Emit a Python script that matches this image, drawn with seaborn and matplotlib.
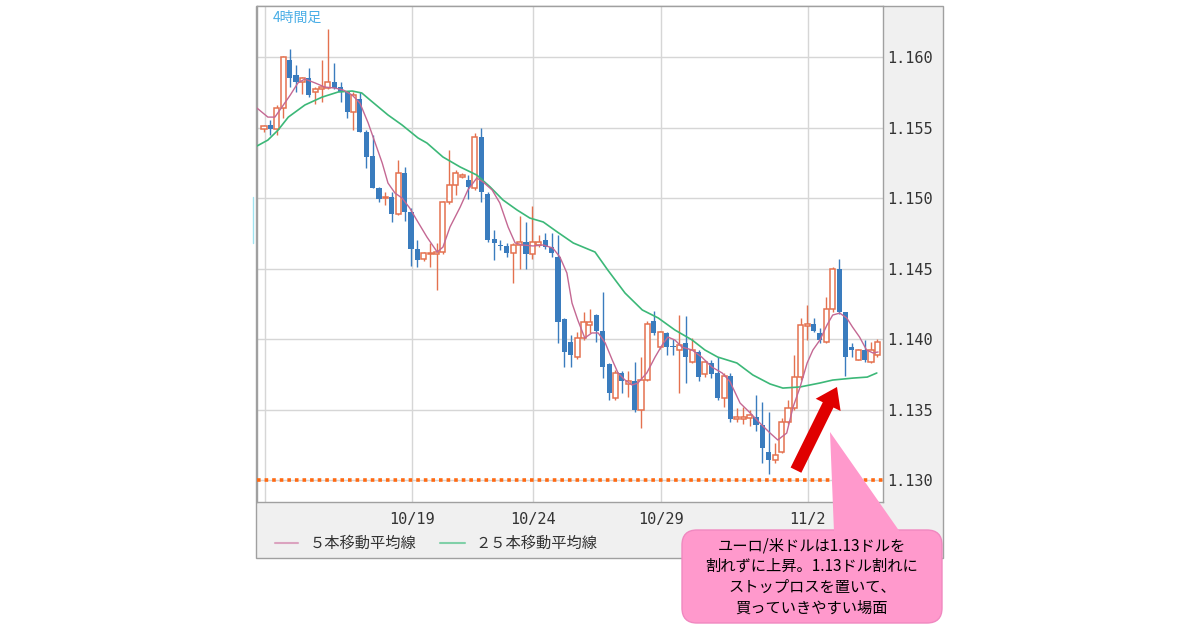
import numpy as np
import pandas as pd
import matplotlib
matplotlib.use('Agg')
import matplotlib.pyplot as plt
import matplotlib.transforms as mtransforms
import seaborn as sns
from matplotlib.patches import Rectangle, FancyBboxPatch, Polygon
from matplotlib.lines import Line2D

# 4-hour candles, EUR/USD
opens = [1.1549, 1.1552, 1.1549, 1.1564, 1.1598, 1.1587, 1.1582, 1.1585, 1.1575, 1.1577,
         1.1578, 1.1582, 1.1579, 1.1575, 1.1561, 1.1570, 1.1547, 1.1530, 1.1507, 1.1500,
         1.1501, 1.1489, 1.1518, 1.1490, 1.1464, 1.1457, 1.1460, 1.1460, 1.1462, 1.1497,
         1.1509, 1.1515, 1.1513, 1.1507, 1.1543, 1.1503, 1.1471, 1.1467, 1.1466, 1.1461,
         1.1467, 1.1469, 1.1460, 1.1467, 1.1470, 1.1465, 1.1458, 1.1414, 1.1398, 1.1387,
         1.1401, 1.1410, 1.1417, 1.1406, 1.1382, 1.1358, 1.1376, 1.1368, 1.1370, 1.1350,
         1.1371, 1.1413, 1.1394, 1.1404, 1.1395, 1.1392, 1.1397, 1.1384, 1.1391, 1.1375,
         1.1383, 1.1376, 1.1358, 1.1374, 1.1343, 1.1343, 1.1344, 1.1345, 1.1339, 1.1320,
         1.1314, 1.1320, 1.1341, 1.1351, 1.1373, 1.1409, 1.1411, 1.1404, 1.1398, 1.1421,
         1.1450, 1.1419, 1.1394, 1.1385, 1.1392, 1.1384, 1.1389]
highs = [1.1552, 1.1555, 1.1566, 1.1601, 1.1606, 1.1594, 1.1586, 1.1592, 1.1579, 1.1598,
         1.1620, 1.1596, 1.1582, 1.1575, 1.1575, 1.1575, 1.1548, 1.1545, 1.1508, 1.1504,
         1.1504, 1.1527, 1.1522, 1.1493, 1.1470, 1.1462, 1.1468, 1.1468, 1.1498, 1.1534,
         1.1520, 1.1518, 1.1516, 1.1546, 1.1550, 1.1504, 1.1477, 1.1470, 1.1468, 1.1468,
         1.1487, 1.1483, 1.1494, 1.1474, 1.1475, 1.1475, 1.1474, 1.1415, 1.1403, 1.1405,
         1.1419, 1.1421, 1.1418, 1.1433, 1.1383, 1.1378, 1.1377, 1.1377, 1.1384, 1.1387,
         1.1413, 1.1420, 1.1406, 1.1405, 1.1400, 1.1417, 1.1416, 1.1401, 1.1392, 1.1385,
         1.1385, 1.1387, 1.1376, 1.1376, 1.1351, 1.1352, 1.1350, 1.1360, 1.1355, 1.1348,
         1.1326, 1.1344, 1.1357, 1.1389, 1.1415, 1.1424, 1.1415, 1.1408, 1.1430, 1.1451,
         1.1457, 1.1419, 1.1397, 1.1393, 1.1399, 1.1398, 1.1400]
lows = [1.1547, 1.1545, 1.1545, 1.1557, 1.1579, 1.1575, 1.1574, 1.1572, 1.1567, 1.1568,
        1.1577, 1.1577, 1.1568, 1.1557, 1.1548, 1.1547, 1.1521, 1.1507, 1.1497, 1.1495,
        1.1483, 1.1488, 1.1484, 1.1452, 1.1451, 1.1455, 1.1451, 1.1435, 1.1460, 1.1496,
        1.1502, 1.1514, 1.1499, 1.1506, 1.1497, 1.1469, 1.1456, 1.1463, 1.1458, 1.1440,
        1.1450, 1.1450, 1.1457, 1.1465, 1.1464, 1.1458, 1.1397, 1.1380, 1.1380, 1.1386,
        1.1399, 1.1404, 1.1398, 1.1372, 1.1357, 1.1357, 1.1362, 1.1359, 1.1348, 1.1337,
        1.1370, 1.1403, 1.1393, 1.1389, 1.1389, 1.1362, 1.1369, 1.1383, 1.1370, 1.1373,
        1.1372, 1.1357, 1.1352, 1.1341, 1.1341, 1.1340, 1.1338, 1.1335, 1.1312, 1.1304,
        1.1312, 1.1319, 1.1340, 1.1350, 1.1371, 1.1399, 1.1405, 1.1397, 1.1397, 1.1419,
        1.1418, 1.1374, 1.1387, 1.1385, 1.1384, 1.1383, 1.1387]
closes = [1.1551, 1.1549, 1.1564, 1.1600, 1.1585, 1.1582, 1.1585, 1.1573, 1.1577, 1.1579,
          1.1582, 1.1578, 1.1575, 1.1561, 1.1573, 1.1547, 1.1529, 1.1507, 1.1499, 1.1501,
          1.1489, 1.1518, 1.1490, 1.1464, 1.1456, 1.1461, 1.1461, 1.1462, 1.1497, 1.1509,
          1.1518, 1.1516, 1.1508, 1.1543, 1.1504, 1.1470, 1.1468, 1.1466, 1.1461, 1.1467,
          1.1469, 1.1460, 1.1469, 1.1469, 1.1465, 1.1461, 1.1412, 1.1391, 1.1389, 1.1401,
          1.1412, 1.1412, 1.1406, 1.1380, 1.1362, 1.1376, 1.1370, 1.1370, 1.1350, 1.1371,
          1.1411, 1.1404, 1.1405, 1.1394, 1.1394, 1.1396, 1.1387, 1.1392, 1.1373, 1.1384,
          1.1375, 1.1358, 1.1374, 1.1343, 1.1345, 1.1345, 1.1346, 1.1339, 1.1323, 1.1314,
          1.1318, 1.1341, 1.1351, 1.1373, 1.1410, 1.1411, 1.1406, 1.1399, 1.1421, 1.1450,
          1.1419, 1.1387, 1.1392, 1.1392, 1.1385, 1.1392, 1.1398]

# moving averages (candle index, price)
ma5_x = [-1.1, 0.6, 1.7, 2.8, 4.1, 5.3, 6.4, 8.0, 9.5, 11.1, 12.4, 13.8, 15.0, 16.3, 17.4,
         18.5, 19.4, 20.5, 21.6, 22.8, 23.9, 25.5, 27.1, 28.0, 29.1, 30.7, 31.9, 33.3, 34.3,
         35.7, 36.9, 38.2, 39.3, 40.5, 42.1, 43.7, 45.2, 46.3, 47.4, 48.2, 49.1, 50.2, 51.3,
         52.3, 53.4, 54.5, 55.4, 56.5, 57.6, 58.5, 59.9, 61.2, 62.3, 63.2, 64.3, 65.4, 67.0,
         68.5, 70.1, 71.7, 72.9, 74.5, 76.1, 77.6, 79.2, 80.4, 81.8, 82.8, 83.9, 85.0, 85.9,
         87.0, 88.1, 89.0, 90.1, 91.2, 92.1, 93.2, 94.3, 95.3, 96.1]
ma5_y = [1.15638, 1.15574, 1.15574, 1.15645, 1.15730, 1.15816, 1.15844, 1.15816, 1.15787,
         1.15780, 1.15766, 1.15730, 1.15674, 1.15532, 1.15390, 1.15248, 1.15106, 1.15035,
         1.15000, 1.14929, 1.14844, 1.14723, 1.14617, 1.14652, 1.14794, 1.14936, 1.15057,
         1.15142, 1.15113, 1.15057, 1.14965, 1.14794, 1.14681, 1.14667, 1.14660, 1.14667,
         1.14645, 1.14582, 1.14468, 1.14255, 1.14135, 1.14007, 1.14043, 1.14043, 1.13972,
         1.13851, 1.13759, 1.13709, 1.13674, 1.13688, 1.13759, 1.13872, 1.13957, 1.14014,
         1.13993, 1.13943, 1.13922, 1.13872, 1.13801, 1.13759, 1.13700, 1.13546, 1.13475,
         1.13404, 1.13333, 1.13284, 1.13333, 1.13518, 1.13660, 1.13830, 1.13922, 1.13993,
         1.14099, 1.14170, 1.14184, 1.14149, 1.14085, 1.14014, 1.13922, 1.13901, 1.13908]
ma25_x = [-1.1, 0.6, 2.2, 3.8, 6.4, 9.1, 11.6, 13.8, 15.3, 16.6, 19.4, 21.6, 24.1, 25.5,
          28.0, 30.7, 33.3, 35.4, 37.4, 39.6, 41.6, 43.7, 45.9, 48.4, 51.8, 53.8, 56.5,
          59.2, 61.7, 64.3, 67.0, 69.0, 71.0, 74.0, 76.5, 79.2, 81.2, 83.9, 87.0, 89.0,
          92.2, 94.4, 95.9]
ma25_y = [1.15369, 1.15411, 1.15482, 1.15574, 1.15660, 1.15716, 1.15752, 1.15759, 1.15745,
          1.15695, 1.15589, 1.15518, 1.15426, 1.15390, 1.15291, 1.15220, 1.15163, 1.15078,
          1.14986, 1.14915, 1.14858, 1.14830, 1.14759, 1.14681, 1.14617, 1.14489, 1.14326,
          1.14206, 1.14149, 1.14064, 1.13993, 1.13922, 1.13872, 1.13830, 1.13745, 1.13681,
          1.13652, 1.13660, 1.13688, 1.13709, 1.13723, 1.13730, 1.13759]

date_ticks = [0.16, 23.2, 42.1, 62.1, 85.1]
date_labels = ['', '10/19', '10/24', '10/29', '11/2']
price_ticks = [1.130, 1.135, 1.140, 1.145, 1.150, 1.155, 1.160]
stop_level = 1.130
callout_lines = ['ユーロ/米ドルは1.13ドルを',
                 '割れずに上昇。1.13ドル割れに',
                 'ストップロスを置いて、',
                 '買っていきやすい場面']

UP = '#e4714f'
DOWN = '#3a7cbe'
MA5_C = '#c46893'
MA25_C = '#3cb878'

sns.set_theme(style='white')
plt.rcParams['font.family'] = ['Noto Sans CJK JP', 'DejaVu Sans']

W, H = 1200, 630
fig = plt.figure(figsize=(12, 6.3), dpi=100)
fig.patch.set_facecolor('white')
# pixel coordinates with y going down
px = mtransforms.Affine2D().scale(1 / 100, -1 / 100).translate(0, 6.3) + fig.dpi_scale_trans

# gray chart frame (axis panels)
fig.patches.append(Rectangle((256, 6), 687, 552, transform=px, fc='#f0f0f0',
                             ec='#a0a0a0', lw=1, zorder=-5))

ax = fig.add_axes([257 / W, 1 - 502 / H, (883 - 257) / W, (502 - 6) / H])
ax.set_zorder(1)
ax.set_facecolor('white')
ax.set_axisbelow(True)

df = pd.DataFrame({'o': opens, 'h': highs, 'l': lows, 'c': closes})
df['i'] = np.arange(len(df))
up = df[df.c >= df.o]
dn = df[df.c < df.o]

ax.vlines(up.i, up.l, up.h, color=UP, lw=1, zorder=3)
ax.vlines(dn.i, dn.l, dn.h, color=DOWN, lw=1, zorder=3)
ax.bar(up.i, np.maximum(up.c - up.o, 0.00006), bottom=up.o, width=0.8,
       facecolor='white', edgecolor=UP, lw=1.1, zorder=4)
ax.bar(dn.i, np.maximum(dn.o - dn.c, 0.00006), bottom=dn.c, width=0.8,
       color=DOWN, lw=0, zorder=4)

ma5 = pd.DataFrame({'x': ma5_x, 'y': ma5_y})
ma25 = pd.DataFrame({'x': ma25_x, 'y': ma25_y})
sns.lineplot(data=ma25, x='x', y='y', ax=ax, color=MA25_C, lw=1.2, sort=False,
             estimator=None, zorder=5)
sns.lineplot(data=ma5, x='x', y='y', ax=ax, color=MA5_C, lw=1.0, sort=False,
             estimator=None, zorder=5)

ax.axhline(stop_level, color='#ff6a13', lw=2.6, dashes=(1, 1.1), zorder=6)

ax.set_xlim(-1.10, 96.87)
ax.set_ylim(1.12844, 1.16362)
ax.set_xlabel('')
ax.set_ylabel('')
ax.yaxis.tick_right()
ax.set_yticks(price_ticks, [f'{v:.3f}' for v in price_ticks])
ax.set_xticks(date_ticks, date_labels)
ax.tick_params(axis='y', length=0, pad=3, labelsize=11, labelcolor='#333333')
ax.tick_params(axis='x', length=0, pad=7, labelsize=11, labelcolor='#333333')
for lbl in ax.get_xticklabels() + ax.get_yticklabels():
    lbl.set_fontfamily('DejaVu Sans Mono')
ax.grid(True, color='#d6d6d6', lw=1)
for sp in ax.spines.values():
    sp.set_color('#a0a0a0')
    sp.set_linewidth(1)

# arrow
ax.annotate('', xy=(89.67, 1.1366), xytext=(83.25, 1.1307),
            arrowprops=dict(arrowstyle='simple,head_length=0.72,head_width=1.0,tail_width=0.43',
                            fc='#e00000', ec='none', mutation_scale=20,
                            shrinkA=0, shrinkB=0), zorder=8)

# title
ax.text(273, 18, '4時間足', transform=px, color='#4aaee6', fontsize=10,
        ha='left', va='center', zorder=9)

# legend
fig.lines.append(Line2D([275, 298], [543, 543], transform=px, color='#dba3bf', lw=1.5))
fig.text(310 / W, 1 - 543 / H, '５本移動平均線', color='#333333', fontsize=11,
         ha='left', va='center')
fig.lines.append(Line2D([440, 465], [543, 543], transform=px, color='#80d0a8', lw=1.5))
fig.text(475 / W, 1 - 543 / H, '２５本移動平均線', color='#333333', fontsize=11,
         ha='left', va='center')

# small cyan mark at the left edge
fig.lines.append(Line2D([253, 253], [197, 243], transform=px, color='#9fe3f0', lw=1))

# callout
box = FancyBboxPatch((682, 530), 260, 93, boxstyle='round,pad=0,rounding_size=15',
                     transform=px, fc='#ff99cc', ec='#f088c0', lw=1, zorder=9)
fig.patches.append(box)
fig.patches.append(Polygon([(830, 432), (834, 532), (900, 532)], closed=True,
                           transform=px, fc='#ff99cc', ec='none', zorder=10))
fig.text(812 / W, 1 - 577 / H, '\n'.join(callout_lines), color='black', fontsize=11,
         ha='center', va='center', linespacing=1.3, zorder=11)

fig.savefig('out.png', dpi=100)
